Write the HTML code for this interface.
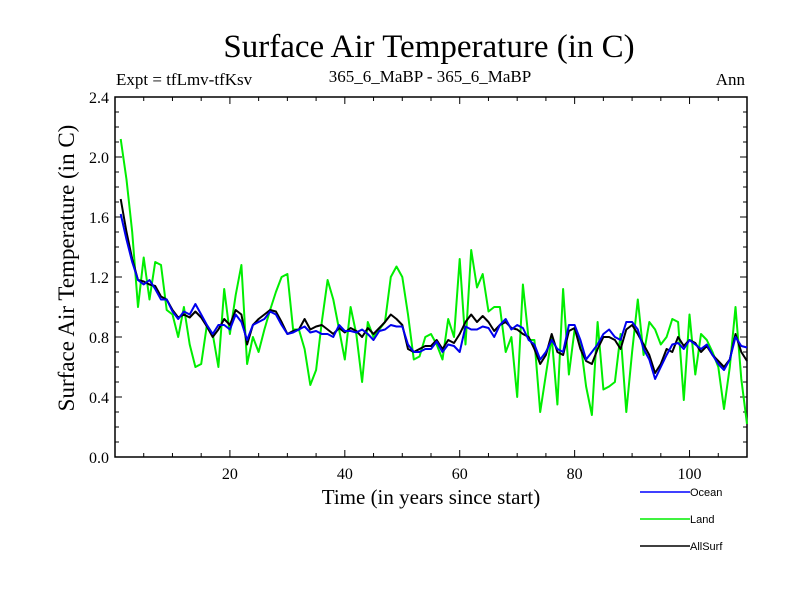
<!DOCTYPE html>
<html><head><meta charset="utf-8"><style>
body{margin:0;background:#fff}
svg{display:block}
text{font-family:"Liberation Serif",serif}
</style></head><body>
<svg id="chart" width="800" height="600" xmlns="http://www.w3.org/2000/svg">
<text x="429" y="57" font-size="33" text-anchor="middle">Surface Air Temperature (in C)</text>
<text x="116" y="85" font-size="17">Expt = tfLmv-tfKsv</text>
<text x="430" y="82" font-size="17" text-anchor="middle">365_6_MaBP - 365_6_MaBP</text>
<text x="745" y="85" font-size="17" text-anchor="end">Ann</text>
<text x="431" y="504" font-size="21" text-anchor="middle">Time (in years since start)</text>
<text transform="translate(74,268) rotate(-90)" font-size="23" text-anchor="middle">Surface Air Temperature (in C)</text>
<g id="axes"></g>
<g id="series"></g>
<g id="legend"></g>
</svg>
<script>
const xTicks=[20,40,60,80,100];
const yTicks=[0.0,0.4,0.8,1.2,1.6,2.0,2.4];
const yTickLabels=["0.0","0.4","0.8","1.2","1.6","2.0","2.4"];
const land=[2.12,1.85,1.5,1.0,1.33,1.05,1.3,1.28,0.98,0.95,0.8,1.0,0.75,0.6,0.62,0.88,0.82,0.6,1.12,0.82,1.08,1.28,0.62,0.8,0.7,0.85,0.98,1.1,1.2,1.22,0.85,0.85,0.72,0.48,0.58,0.9,1.18,1.05,0.85,0.65,1.0,0.82,0.5,0.9,0.8,0.85,0.9,1.2,1.27,1.2,0.95,0.65,0.67,0.8,0.82,0.75,0.65,0.92,0.8,1.32,0.75,1.38,1.13,1.22,0.97,1.0,1.0,0.7,0.8,0.4,1.15,0.78,0.78,0.3,0.55,0.8,0.35,1.12,0.55,0.85,0.77,0.47,0.28,0.9,0.45,0.47,0.5,0.82,0.3,0.7,1.05,0.68,0.9,0.85,0.75,0.8,0.92,0.9,0.38,0.95,0.55,0.82,0.78,0.7,0.6,0.32,0.6,1.0,0.52,0.22];
const ocean=[1.62,1.45,1.3,1.18,1.15,1.18,1.12,1.05,1.05,0.97,0.92,0.97,0.95,1.02,0.95,0.88,0.82,0.88,0.88,0.85,0.95,0.9,0.78,0.88,0.9,0.92,0.97,0.95,0.88,0.82,0.83,0.85,0.87,0.83,0.84,0.82,0.82,0.8,0.88,0.84,0.84,0.83,0.85,0.82,0.78,0.84,0.85,0.88,0.87,0.87,0.75,0.7,0.7,0.72,0.72,0.77,0.7,0.75,0.74,0.7,0.87,0.85,0.85,0.87,0.86,0.8,0.88,0.92,0.85,0.88,0.86,0.78,0.75,0.65,0.7,0.78,0.72,0.7,0.88,0.88,0.78,0.65,0.7,0.75,0.82,0.85,0.8,0.78,0.9,0.9,0.85,0.72,0.65,0.52,0.6,0.68,0.75,0.76,0.72,0.78,0.75,0.72,0.75,0.68,0.62,0.58,0.65,0.8,0.74,0.73];
const allSurf=[1.72,1.5,1.32,1.18,1.17,1.15,1.14,1.07,1.05,0.98,0.93,0.95,0.93,0.97,0.93,0.87,0.8,0.85,0.92,0.88,0.98,0.95,0.75,0.88,0.92,0.95,0.98,0.97,0.9,0.82,0.84,0.85,0.92,0.85,0.87,0.88,0.85,0.82,0.86,0.83,0.86,0.84,0.8,0.86,0.82,0.86,0.9,0.95,0.92,0.88,0.72,0.7,0.72,0.74,0.74,0.78,0.72,0.78,0.76,0.82,0.9,0.95,0.9,0.94,0.9,0.84,0.88,0.9,0.86,0.85,0.82,0.8,0.72,0.62,0.68,0.82,0.7,0.68,0.84,0.86,0.72,0.64,0.62,0.72,0.8,0.8,0.78,0.72,0.85,0.88,0.82,0.75,0.68,0.56,0.62,0.72,0.7,0.8,0.74,0.78,0.76,0.7,0.74,0.68,0.64,0.6,0.65,0.82,0.7,0.64];
const X0=115,X1=747,Y0=457,Y1=97;
const xs=v=>X0+(v/110)*(X1-X0);
const ys=v=>Y0-(v/2.4)*(Y0-Y1);
const NS="http://www.w3.org/2000/svg";
function mk(t,a,p){const e=document.createElementNS(NS,t);for(const k in a)e.setAttribute(k,a[k]);p.appendChild(e);return e;}
const axes=document.getElementById('axes');
const frame=mk('rect',{x:X0,y:Y1,width:X1-X0,height:Y0-Y1,fill:'none',stroke:'#000','stroke-width':1.5},axes);


for(let v=0;v<=110;v+=5){const big=v%20===0;const x=xs(v);
 mk('line',{x1:x,y1:Y0,x2:x,y2:Y0-(big?7:4),stroke:'#000'},axes);
 mk('line',{x1:x,y1:Y1,x2:x,y2:Y1+(big?7:4),stroke:'#000'},axes);}
xTicks.forEach(v=>{const t=mk('text',{x:xs(v),y:Y0+22,'font-size':16,'text-anchor':'middle'},axes);t.textContent=v;
 
 });
for(let i=0;i<=24;i++){const v=i*0.1;const big=i%4===0;const y=ys(v);
 mk('line',{x1:X0,y1:y,x2:X0+(big?7:4),y2:y,stroke:'#000'},axes);
 mk('line',{x1:X1,y1:y,x2:X1-(big?7:4),y2:y,stroke:'#000'},axes);}
yTicks.forEach((v,i)=>{const t=mk('text',{x:X0-6,y:ys(v)+6,'font-size':16,'text-anchor':'end'},axes);t.textContent=yTickLabels[i];
 
 });
const ser=document.getElementById('series');
function line(d,c,w,n){const pts=d.map((v,i)=>xs(i+1).toFixed(1)+','+ys(v).toFixed(1)).join(' ');
 const p=mk('polyline',{points:pts,fill:'none',stroke:c,'stroke-width':w,'stroke-linejoin':'round'},ser);
 
 }
line(land,'#00ee00',2,'land-line');
line(allSurf,'#000',2,'allsurf-line');
line(ocean,'#0000ee',2,'ocean-line');
const lg=document.getElementById('legend');
[['Ocean','#0000ff',492,'legend-ocean'],['Land','#00ee00',519,'legend-land'],['AllSurf','#000',546,'legend-allsurf']].forEach(([n,c,y,dn])=>{
 const g=mk('g',{},lg);
 
 
 mk('line',{x1:640,y1:y,x2:690,y2:y,stroke:c,'stroke-width':1.5},g);
 const t=mk('text',{x:690,y:y+4,'font-size':11,style:'font-family:"Liberation Sans",sans-serif'},g);t.textContent=n;});
</script>
</body></html>
